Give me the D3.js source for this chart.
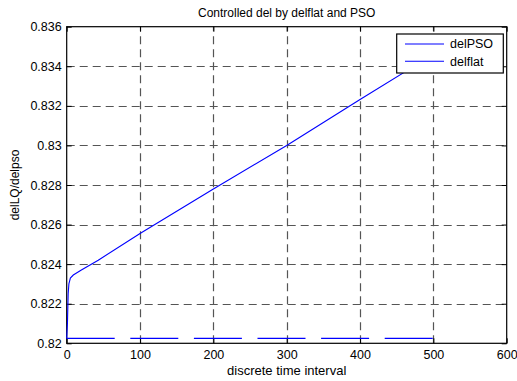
<!DOCTYPE html>
<html>
<head>
<meta charset="utf-8">
<script src="https://cdn.jsdelivr.net/npm/d3@7"></script>
<style>
  body { margin: 0; background: #fff; }
  text { font-family: "Liberation Sans", Arial, sans-serif; fill: #000; }
</style>
</head>
<body>
<div id="chart"></div>
<script>
// data
var psoX = [0, 1, 2, 3, 5, 9, 20, 43, 100, 200, 300, 400, 500];
var psoY = [0.82025, 0.821, 0.8225, 0.823, 0.8233, 0.82345, 0.8237, 0.8242, 0.82555, 0.8278, 0.83, 0.83232, 0.8346];
var flatX = [0, 500];
var flatY = [0.82025, 0.82025];
var xTicks = [0, 100, 200, 300, 400, 500, 600];
var yTicks = [0.82, 0.822, 0.824, 0.826, 0.828, 0.83, 0.832, 0.834, 0.836];
var seriesNames = ['delPSO', 'delflat'];

var width = 517, height = 381;
// plot box edges (window.top is taken, so use other names)
var plotL = 66.7, plotR = 506.7, plotT = 26.7, plotB = 343.3;

var svg = d3.select('#chart').append('svg')
    .attr('width', width)
    .attr('height', height);

svg.append('rect').attr('width', width).attr('height', height).attr('fill', '#fff');

var x = d3.scaleLinear().domain([0, 600]).range([plotL, plotR]);
var y = d3.scaleLinear().domain([0.82, 0.836]).range([plotB, plotT]);

//grid lines (dashed gray)
var grid = svg.append('g').attr('stroke', '#555').attr('stroke-width', 1.2).attr('stroke-dasharray', '8,5');
grid.selectAll('.gx').data(xTicks.slice(1, -1)).enter().append('line')
    .attr('x1', function(d){ return Math.round(x(d)) + 0.5; })
    .attr('x2', function(d){ return Math.round(x(d)) + 0.5; })
    .attr('y1', plotB).attr('y2', plotT);
grid.selectAll('.gy').data(yTicks.slice(1, -1)).enter().append('line')
    .attr('y1', function(d){ return Math.round(y(d)) + 0.5; })
    .attr('y2', function(d){ return Math.round(y(d)) + 0.5; })
    .attr('x1', plotL).attr('x2', plotR);

//axes with inward ticks on all four sides
var fmt = function(d){ return String(+d.toFixed(3)); };
svg.append('g').attr('transform', 'translate(0,' + plotB + ')')
    .call(d3.axisBottom(x).tickValues(xTicks).tickSizeInner(-5).tickSizeOuter(0).tickPadding(6.5).tickFormat(d3.format('d')));
svg.append('g').attr('transform', 'translate(0,' + plotT + ')')
    .call(d3.axisTop(x).tickValues(xTicks).tickSizeInner(-5).tickSizeOuter(0).tickFormat(''));
svg.append('g').attr('transform', 'translate(' + plotL + ',0)')
    .call(d3.axisLeft(y).tickValues(yTicks).tickSizeInner(-5).tickSizeOuter(0).tickPadding(5).tickFormat(fmt));
svg.append('g').attr('transform', 'translate(' + plotR + ',0)')
    .call(d3.axisRight(y).tickValues(yTicks).tickSizeInner(-5).tickSizeOuter(0).tickFormat(''));

svg.selectAll('.domain').remove();
svg.selectAll('.tick line').attr('stroke', '#000');
svg.selectAll('.tick text').style('font-size', '12.5px').attr('font-family', null);

//box
svg.append('rect')
    .attr('x', plotL).attr('y', plotT)
    .attr('width', plotR - plotL).attr('height', plotB - plotT)
    .attr('fill', 'none').attr('stroke', '#000').attr('stroke-width', 1.2);

//lines
var line = d3.line()
    .x(function(d){ return x(d[0]); })
    .y(function(d){ return y(d[1]); });

var psoData = psoX.map(function(v, i){ return [v, psoY[i]]; });
var flatData = flatX.map(function(v, i){ return [v, flatY[i]]; });

svg.append('path').datum(flatData).attr('d', line)
    .attr('fill', 'none').attr('stroke', '#0000ff').attr('stroke-width', 1.1)
    .attr('stroke-dasharray', '48,15.6');
svg.append('path').datum(psoData).attr('d', line)
    .attr('fill', 'none').attr('stroke', '#0000ff').attr('stroke-width', 1.1);

//legend
var lg = svg.append('g');
lg.append('rect')
    .attr('x', 396.7).attr('y', 34).attr('width', 106.6).attr('height', 39)
    .attr('fill', '#fff').attr('stroke', '#000').attr('stroke-width', 1.2);
seriesNames.forEach(function(name, i){
    var ly = 44 + i * 17.3;
    lg.append('line').attr('x1', 405).attr('x2', 444).attr('y1', ly).attr('y2', ly)
        .attr('stroke', '#0000ff').attr('stroke-width', 1.1);
    lg.append('text').attr('x', 450).attr('y', ly + 4.3).style('font-size', '12.5px').text(name);
});

//title and axis labels
svg.append('text').attr('x', (plotL + plotR) / 2).attr('y', 17)
    .attr('text-anchor', 'middle').style('font-size', '12px')
    .text('Controlled del by delflat and PSO');
svg.append('text').attr('x', (plotL + plotR) / 2).attr('y', 375)
    .attr('text-anchor', 'middle').style('font-size', '13px')
    .text('discrete time interval');
svg.append('text')
    .attr('transform', 'translate(19,' + ((plotT + plotB) / 2) + ')rotate(-90)')
    .attr('text-anchor', 'middle').style('font-size', '12px')
    .text('delLQ/delpso');
</script>
</body>
</html>
